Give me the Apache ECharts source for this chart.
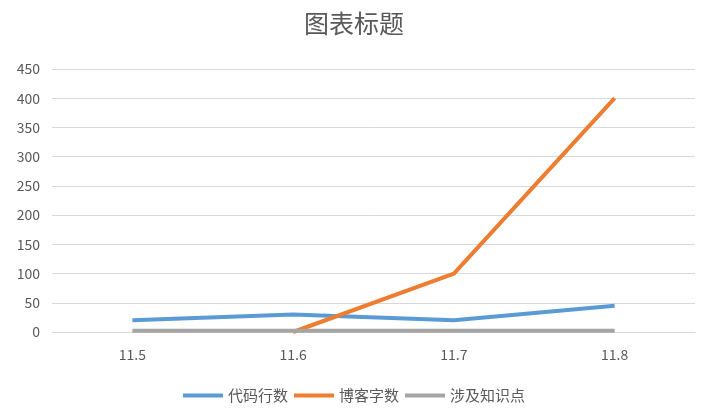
<!DOCTYPE html>
<html><head><meta charset="utf-8">
<script src="https://cdn.jsdelivr.net/npm/echarts@6/dist/echarts.min.js"></script>
<style>html,body{margin:0;background:#fff}#c{width:708px;height:416px}</style>
</head><body><div id="c"></div>
<script>
const categories=['11.5','11.6','11.7','11.8'];
const codeLines=[20,30,20,45];
const blogWords=[null,0,100,400];
const knowledge=[2,2,2,2];
const names=['代码行数','博客字数','涉及知识点'];
const chart=echarts.init(document.getElementById('c'));
const font='"Noto Sans CJK SC", sans-serif';
const mk=(n,d,c)=>({name:n,type:'line',data:d,symbol:'none',lineStyle:{width:4,color:c},itemStyle:{color:c}});
chart.setOption({
 textStyle:{fontFamily:font},
 title:{text:'图表标题',left:'center',top:6,textStyle:{fontSize:25,fontWeight:'normal',color:'#595959',fontFamily:font}},
 legend:{bottom:8,itemWidth:40,itemHeight:4,itemGap:6,icon:'rect',textStyle:{fontSize:15,color:'#595959'}},
 grid:{left:52,right:13,top:69,bottom:84},
 xAxis:{type:'category',data:categories,axisTick:{show:false},axisLine:{lineStyle:{color:'#d9d9d9'}},axisLabel:{color:'#595959',fontSize:14,margin:16}},
 yAxis:{type:'value',min:0,max:450,interval:50,axisLabel:{color:'#595959',fontSize:14,margin:12},splitLine:{lineStyle:{color:'#d9d9d9'}}},
 series:[mk(names[0],codeLines,'#5B9BD5'),mk(names[1],blogWords,'#ED7D31'),mk(names[2],knowledge,'#A5A5A5')]
});
</script></body></html>
